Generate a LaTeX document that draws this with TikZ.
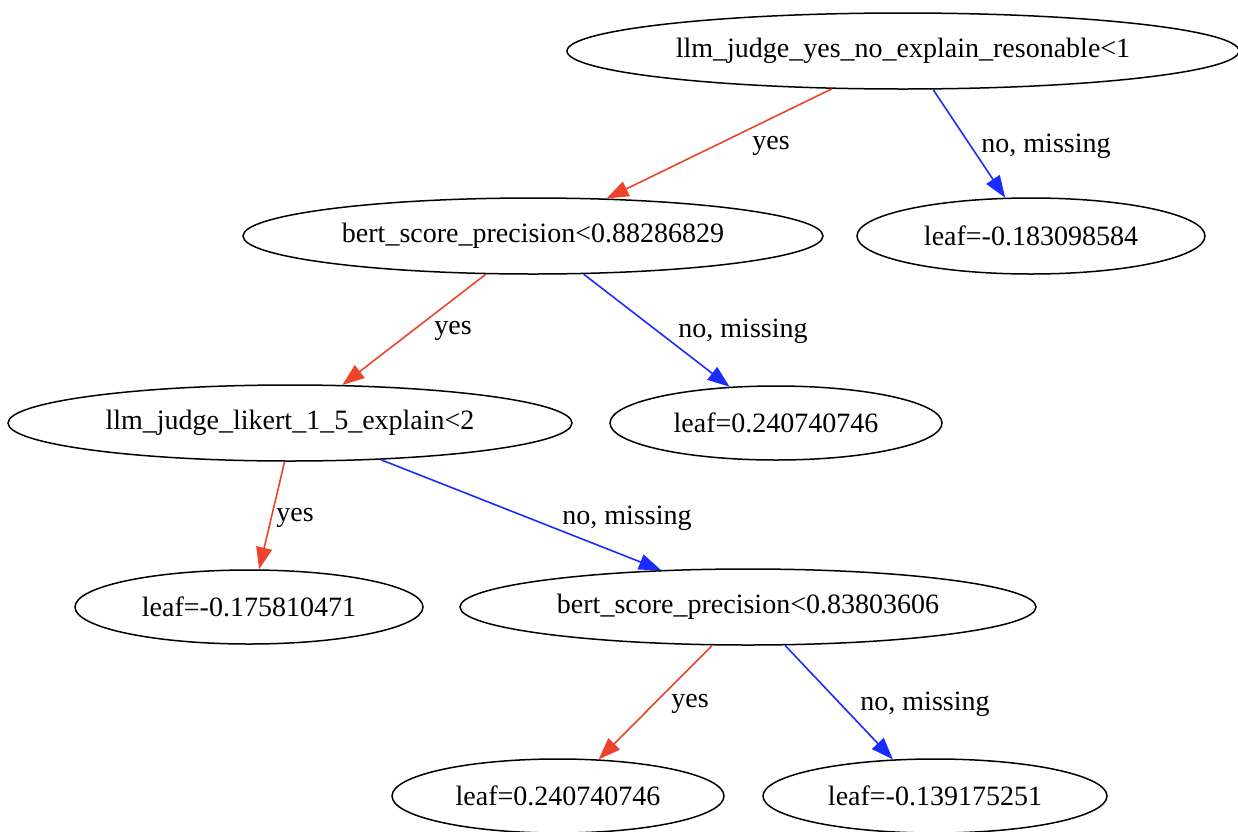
\documentclass[tikz,border=0pt]{standalone}
\usepackage{fontspec}
\setmainfont{Liberation Serif}
\usepackage{tikz}
\definecolor{yesred}{RGB}{236, 68, 42}
\definecolor{noblue}{RGB}{26, 44, 255}
\usetikzlibrary{shapes.geometric}
\usetikzlibrary{arrows.meta}

\begin{document}
\begin{tikzpicture}[x=0.5pt, y=-0.5pt,
  every node/.style={inner sep=0pt, font=\fontsize{14}{16}\selectfont},
  split/.style={ellipse, draw=black, line width=0.75pt},
  yesedge/.style={draw=yesred, line width=0.8pt, -{Triangle[length=11pt, width=8pt]}},
  noedge/.style={draw=noblue, line width=0.8pt, -{Triangle[length=11pt, width=8pt]}}]
\useasboundingbox (0, 0) rectangle (1238, 831);
\node (0) [split, minimum width=336pt, minimum height=38pt] at (903, 51)  {llm\_judge\_yes\_no\_explain\_resonable<1};
\node (1) [split, minimum width=290pt, minimum height=38pt] at (533, 236)  {bert\_score\_precision<0.88286829};
\node (2) [split, minimum width=174pt, minimum height=38pt] at (1031, 236)  {leaf=-0.183098584};
\node (3) [split, minimum width=282pt, minimum height=38pt] at (290, 423)  {llm\_judge\_likert\_1\_5\_explain<2};
\node (4) [split, minimum width=166pt, minimum height=37pt] at (776, 423)  {leaf=0.240740746};
\node (5) [split, minimum width=174pt, minimum height=37pt] at (249, 607)  {leaf=-0.175810471};
\node (6) [split, minimum width=288pt, minimum height=38pt] at (748, 607)  {bert\_score\_precision<0.83803606};
\node (7) [split, minimum width=166pt, minimum height=37pt] at (558, 796)  {leaf=0.240740746};
\node (8) [split, minimum width=172pt, minimum height=37pt] at (935, 796)  {leaf=-0.139175251};
\draw [yesedge] (0.208) to  (1.27);
\draw [noedge] (0.308) to  (2.124);
\draw [yesedge] (1.219) to  (3.36);
\draw [noedge] (1.323) to  (4.142);
\draw [yesedge] (3.262) to  (5.75);
\draw [noedge] (3.338) to  (6.157);
\draw [yesedge] (6.227) to  (7.42);
\draw [noedge] (6.314) to  (8.139);
\node (y0) at (771, 146)  {yes};
\node (n0) at (1046, 146)  {no, missing};
\node (y1) at (453, 331)  {yes};
\node (n1) at (743, 331)  {no, missing};
\node (y3) at (295, 518)  {yes};
\node (n3) at (627, 518)  {no, missing};
\node (y6) at (690, 704)  {yes};
\node (n6) at (925, 704)  {no, missing};
\end{tikzpicture}
\end{document}
